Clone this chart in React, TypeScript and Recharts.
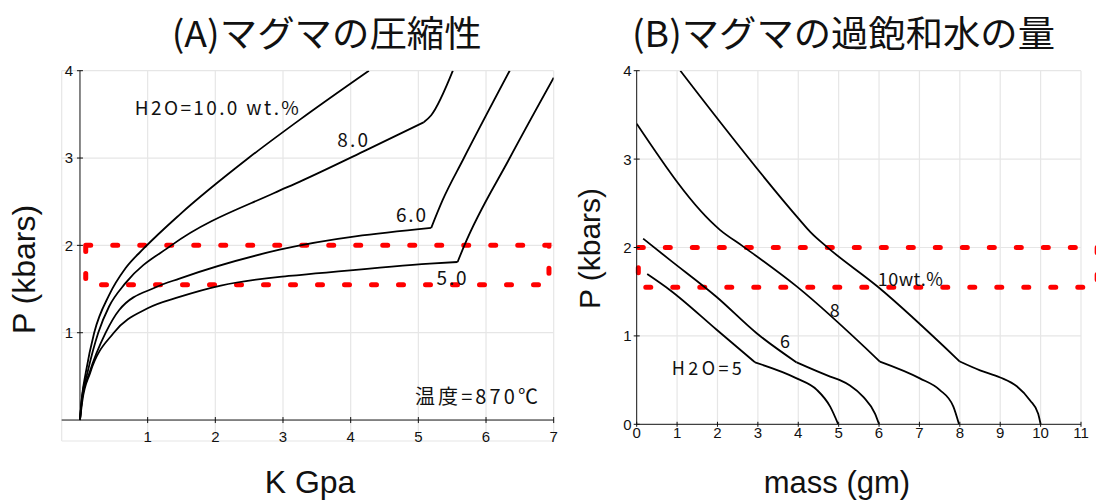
import React from 'react';
import {
  LineChart,
  Line,
  XAxis,
  YAxis,
  CartesianGrid,
  ReferenceLine,
  ReferenceArea,
  ReferenceDot,
} from 'recharts';

type Pt = { x: number; y: number };
const pts = (rows: number[][]): Pt[] => rows.map(([x, y]) => ({ x, y }));

// (A) pressure P (kbars) against bulk modulus K (GPa), one curve per H2O wt.%
const kH2O10 = pts([[0, 0], [0.03, 0.27], [0.085, 0.54], [0.21, 1.0], [0.43, 1.43], [0.675, 1.74], [0.95, 1.97], [1.47, 2.35], [2.49, 3.0], [3.25, 3.44], [4.27, 4.0]]);
const kH2O8 = pts([[0, 0], [0.03, 0.25], [0.11, 0.54], [0.27, 1.0], [0.43, 1.3], [0.675, 1.57], [1.35, 2.0], [2.87, 2.6], [3.25, 2.73], [4.23, 3.09], [5.08, 3.41], [5.19, 3.49], [5.51, 4.0]]);
const kH2O6 = pts([[0, 0], [0.03, 0.24], [0.14, 0.54], [0.38, 1.0], [0.58, 1.26], [1.12, 1.52], [1.47, 1.62], [2.95, 1.95], [5.19, 2.2], [5.36, 2.52], [5.66, 2.98], [6.35, 4.0]]);
const kH2O5 = pts([[0, 0], [0.035, 0.22], [0.15, 0.54], [0.5, 1.0], [1.0, 1.28], [1.47, 1.41], [2.08, 1.54], [2.95, 1.64], [3.24, 1.66], [5.17, 1.79], [5.58, 1.81], [5.68, 2.0], [6.35, 3.0], [7.0, 3.92]]);
// K where each curve turns sharply upward (null: no break)
const kBreaks = [null, 5.08, 5.19, 5.58];

// (B) pressure P (kbars) against supersaturated water mass (gm)
const massH2O10 = pts([[1.08, 4.0], [4.04, 2.31], [4.29, 2.18], [4.7, 2.01], [5.97, 1.556], [8.0, 0.71], [8.5, 0.61], [9.0, 0.53], [9.41, 0.43], [9.74, 0.27], [9.94, 0.12], [10.0, 0]]);
const massH2O8 = pts([[0, 3.4], [2.06, 2.2], [2.64, 2.01], [3.96, 1.56], [6.02, 0.71], [7.01, 0.52], [7.5, 0.39], [7.84, 0.2], [7.98, 0]]);
const massH2O6 = pts([[0.16, 2.1], [0.82, 1.86], [1.98, 1.44], [2.97, 1.03], [3.96, 0.7], [4.79, 0.54], [5.03, 0.5], [5.28, 0.44], [5.61, 0.31], [5.9, 0.12], [6.0, 0]]);
const massH2O5 = pts([[0.26, 1.7], [0.82, 1.52], [1.98, 1.07], [2.93, 0.7], [3.96, 0.52], [4.46, 0.39], [4.79, 0.2], [4.99, 0]]);
// mass where each curve leaves the straight run
const massBreaks = [8.0, 6.02, 3.96, 2.93];

const kTicksX = [1, 2, 3, 4, 5, 6, 7];
const kTicksY = [1, 2, 3, 4];
const massTicksX = [0, 1, 2, 3, 4, 5, 6, 7, 8, 9, 10, 11];
const massTicksY = [0, 1, 2, 3, 4];

const kCurves = [kH2O10, kH2O8, kH2O6, kH2O5];
const massCurves = [massH2O10, massH2O8, massH2O6, massH2O5];

const kNotes = [
  { x: 0.81, y: 3.49, text: 'H2O=10.0 wt.%', len: 164 },
  { x: 3.8, y: 3.13, text: '8.0', len: 31 },
  { x: 4.67, y: 2.27, text: '6.0', len: 30 },
  { x: 5.27, y: 1.55, text: '5.0', len: 30 },
  { x: 4.95, y: 0.18, text: '温度=870℃', len: 123 },
];
const massNotes = [
  { x: 5.97, y: 1.56, text: '10wt.%', len: 65 },
  { x: 4.78, y: 1.21, text: '8', len: 0 },
  { x: 3.55, y: 0.86, text: '6', len: 0 },
  { x: 0.87, y: 0.56, text: 'H2O=5', len: 70 },
];

// saturation band marked on both panels
const bandLow = 1.55;
const bandHigh = 2.0;

const kDomainX: [number, number] = [-0.27, 7];
const kDomainY: [number, number] = [-0.24, 4];

const SANS = '"Liberation Sans", Arial, sans-serif';
const JP = '"Noto Sans CJK JP", sans-serif';
const INK = '#111';
const GRID = '#e6e6e6';
const RED = '#ff0000';

// panel A geometry: axes cross at (0,0) inside a slightly padded plot
const A = { w: 560, h: 502, top: 70.7, right: 6.3, bottom: 41, left: 41.7, axisW: 20, axisH: 20 };
const aPlotW = A.w - A.left - A.right - A.axisW;
const aPlotH = A.h - A.top - A.bottom - A.axisH;
const aShiftX = (aPlotW * (0 - kDomainX[0])) / (kDomainX[1] - kDomainX[0]);
const aShiftY = (aPlotH * (0 - kDomainY[0])) / (kDomainY[1] - kDomainY[0]);

const B = { w: 536, h: 502, top: 70.7, right: 15, bottom: 57.7, left: 56.7, axisW: 20, axisH: 20 };

// split a curve at its break so the spline keeps a sharp corner there
function pieces(c: Pt[], at: number | null): Pt[][] {
  if (at == null) return [c];
  return [c.filter((p) => p.x <= at), c.filter((p) => p.x >= at)];
}

function XTick({ x, y, payload, lift, half, gap }: any) {
  const y0 = y - lift;
  return (
    <g>
      <line x1={x} x2={x} y1={y0 - half} y2={y0 + half} stroke={INK} strokeWidth={1} />
      <text x={x} y={y0 + gap} textAnchor="middle" fontSize={15} fontFamily={SANS} fill={INK}>
        {payload.value}
      </text>
    </g>
  );
}

function YTick({ x, y, payload, shift, half, gap }: any) {
  const x0 = x + shift;
  return (
    <g>
      <line x1={x0 - half} x2={x0 + half} y1={y} y2={y} stroke={INK} strokeWidth={1} />
      <text x={x0 - gap} y={y + 5.4} textAnchor="end" fontSize={15} fontFamily={SANS} fill={INK}>
        {payload.value}
      </text>
    </g>
  );
}

function note(n: { x: number; y: number; text: string; len: number }, size: number) {
  return (
    <ReferenceDot
      key={n.text}
      x={n.x}
      y={n.y}
      r={0}
      ifOverflow="visible"
      shape={(p: any) => (
        <text
          x={p.cx}
          y={p.cy}
          fontSize={size}
          fontFamily={JP}
          fill={INK}
          {...(n.len ? { textLength: n.len, lengthAdjust: 'spacing' } : {})}
        >
          {n.text}
        </text>
      )}
    />
  );
}

function curveLines(curves: Pt[][], breaks: (number | null)[], prefix: string) {
  return curves.flatMap((c, i) =>
    pieces(c, breaks[i]).map((seg, j) => (
      <Line
        key={`${prefix}-${i}-${j}`}
        data={seg}
        dataKey="y"
        type="monotone"
        stroke="#000"
        strokeWidth={1.8}
        dot={false}
        isAnimationActive={false}
      />
    )),
  );
}

function CompressChart() {
  return (
    <LineChart
      width={A.w}
      height={A.h}
      margin={{ top: A.top, right: A.right, bottom: A.bottom, left: A.left }}
    >
      <CartesianGrid
        stroke={GRID}
        strokeWidth={1.2}
        verticalValues={[kDomainX[0], ...kTicksX]}
        horizontalValues={[kDomainY[0], ...kTicksY]}
      />
      <XAxis
        dataKey="x"
        type="number"
        domain={kDomainX}
        allowDataOverflow
        ticks={kTicksX}
        interval={0}
        height={A.axisH}
        axisLine={false}
        tickLine={false}
        tickSize={0}
        tickMargin={0}
        tick={(p: any) => <XTick {...p} lift={aShiftY} half={3} gap={21.7} />}
      />
      <YAxis
        type="number"
        domain={kDomainY}
        allowDataOverflow
        ticks={kTicksY}
        interval={0}
        width={A.axisW}
        axisLine={false}
        tickLine={false}
        tickSize={0}
        tickMargin={0}
        tick={(p: any) => <YTick {...p} shift={aShiftX} half={3} gap={7} />}
      />
      <ReferenceLine y={0} stroke={INK} strokeWidth={1} />
      <ReferenceLine segment={[{ x: 0, y: 0 }, { x: 0, y: 4 }]} stroke={INK} strokeWidth={1} />
      {curveLines(kCurves, kBreaks, 'k')}
      <ReferenceArea
        x1={0.085}
        x2={6.93}
        y1={bandLow}
        y2={bandHigh}
        fill="none"
        stroke={RED}
        strokeWidth={5}
        strokeDasharray="5 22"
        strokeLinecap="round"
        ifOverflow="visible"
      />
      {kNotes.map((n) => note(n, n.text.startsWith('温') ? 20 : 19))}
    </LineChart>
  );
}

function MassChart() {
  return (
    <LineChart
      width={B.w}
      height={B.h}
      margin={{ top: B.top, right: B.right, bottom: B.bottom, left: B.left }}
    >
      <CartesianGrid
        stroke={GRID}
        strokeWidth={1.2}
        verticalValues={massTicksX.slice(1)}
        horizontalValues={massTicksY.slice(1)}
      />
      <XAxis
        dataKey="x"
        type="number"
        domain={[0, 11]}
        allowDataOverflow
        ticks={massTicksX}
        interval={0}
        height={B.axisH}
        axisLine={{ stroke: INK, strokeWidth: 1 }}
        tickLine={false}
        tickSize={0}
        tickMargin={0}
        tick={(p: any) => <XTick {...p} lift={0} half={2.5} gap={13.2} />}
      />
      <YAxis
        type="number"
        domain={[0, 4]}
        allowDataOverflow
        ticks={massTicksY}
        interval={0}
        width={B.axisW}
        axisLine={{ stroke: INK, strokeWidth: 1 }}
        tickLine={false}
        tickSize={0}
        tickMargin={0}
        tick={(p: any) => <YTick {...p} shift={0} half={3} gap={5} />}
      />
      {curveLines(massCurves, massBreaks, 'm')}
      <ReferenceArea
        x1={0.04}
        x2={11.4}
        y1={bandLow}
        y2={bandHigh}
        fill="none"
        stroke={RED}
        strokeWidth={5}
        strokeDasharray="5 22"
        strokeLinecap="round"
        ifOverflow="visible"
      />
      {massNotes.map((n) => note(n, 18))}
    </LineChart>
  );
}

export default function App() {
  return (
    <div style={{ position: 'absolute', left: 0, top: 0, width: 1096, height: 502, background: '#fff' }}>
      <div style={{ position: 'absolute', left: 0, top: 0 }}>
        <CompressChart />
      </div>
      <div style={{ position: 'absolute', left: 560, top: 0 }}>
        <MassChart />
      </div>
      <svg
        width={1096}
        height={502}
        style={{ position: 'absolute', left: 0, top: 0, pointerEvents: 'none' }}
      >
        <text x={326.7} y={47} textAnchor="middle" fontSize={36} fontFamily={JP} fill={INK} textLength={310} lengthAdjust="spacingAndGlyphs">
          (A)マグマの圧縮性
        </text>
        <text x={843.5} y={47} textAnchor="middle" fontSize={36} fontFamily={JP} fill={INK} textLength={423} lengthAdjust="spacingAndGlyphs">
          (B)マグマの過飽和水の量
        </text>
        <text x={35} y={269.5} transform="rotate(-90 35 269.5)" textAnchor="middle" fontSize={32} fontFamily={SANS} fill={INK}>
          P (kbars)
        </text>
        <text x={600} y={248.5} transform="rotate(-90 600 248.5)" textAnchor="middle" fontSize={30} fontFamily={SANS} fill={INK}>
          P (kbars)
        </text>
        <text x={310} y={493} textAnchor="middle" fontSize={32} fontFamily={SANS} fill={INK}>
          K Gpa
        </text>
        <text x={837} y={493} textAnchor="middle" fontSize={31} fontFamily={SANS} fill={INK}>
          mass (gm)
        </text>
      </svg>
    </div>
  );
}
